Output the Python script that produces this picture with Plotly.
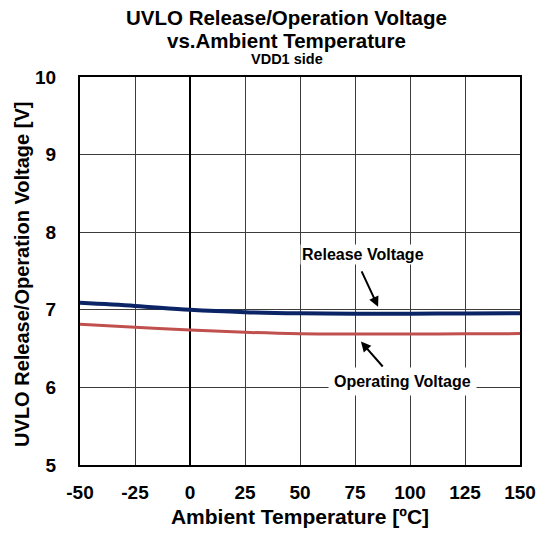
import plotly.graph_objects as go

temps = [-50, -25, 0, 25, 50, 75, 100, 125, 150]
release_v = [7.09, 7.05, 7.00, 6.97, 6.955, 6.95, 6.95, 6.952, 6.955]
operating_v = [6.815, 6.775, 6.74, 6.71, 6.692, 6.688, 6.688, 6.69, 6.693]
x_ticks = [-50, -25, 0, 25, 50, 75, 100, 125, 150]
y_ticks = [5, 6, 7, 8, 9, 10]

FONT = "Liberation Sans, Arial, sans-serif"

fig = go.Figure()
fig.add_trace(go.Scatter(x=temps, y=operating_v, mode="lines",
                         line=dict(color="#c0504d", width=3, shape="spline"),
                         name="Operating Voltage", showlegend=False, hoverinfo="skip"))
fig.add_trace(go.Scatter(x=temps, y=release_v, mode="lines",
                         line=dict(color="#0b2466", width=4, shape="spline"),
                         name="Release Voltage", showlegend=False, hoverinfo="skip"))

fig.update_layout(
    width=540, height=537,
    margin=dict(l=80, r=20, t=77, b=72),
    paper_bgcolor="white", plot_bgcolor="white",
    font=dict(family=FONT, color="black"),
    showlegend=False,
)
fig.update_xaxes(range=[-50, 150], tickvals=x_ticks, ticktext=[str(v) for v in x_ticks],
                 automargin=False,
                 showgrid=True, gridcolor="#3c3c3c", gridwidth=1.2,
                 zeroline=True, zerolinecolor="black", zerolinewidth=2,
                 showline=True, linecolor="black", linewidth=2, mirror=True,
                 ticks="", ticklabelstandoff=9,
                 tickfont=dict(size=19, family=FONT, weight="bold"),
                 title=dict(text="<b>Ambient Temperature [ºC]</b>", font=dict(size=21), standoff=8))
fig.update_yaxes(range=[5, 10], tickvals=y_ticks, ticktext=[str(v) for v in y_ticks],
                 automargin=False,
                 showgrid=True, gridcolor="#3c3c3c", gridwidth=1.2,
                 zeroline=False,
                 showline=True, linecolor="black", linewidth=2, mirror=True,
                 ticks="", ticklabelstandoff=18,
                 tickfont=dict(size=19, family=FONT, weight="bold"))

# y-axis title as rotated annotation (placed at x≈22px)
fig.add_annotation(xref="paper", yref="paper", x=-58 / 440, y=0.49, xanchor="center", yanchor="middle",
                   text="<b>UVLO Release/Operation Voltage [V]</b>", textangle=-90,
                   showarrow=False, font=dict(size=20))

# title lines
fig.add_annotation(xref="paper", yref="paper", x=0.47, y=1, yshift=60, yanchor="middle",
                   text="<b>UVLO Release/Operation Voltage</b>", showarrow=False, font=dict(size=20.5))
fig.add_annotation(xref="paper", yref="paper", x=0.47, y=1, yshift=37, yanchor="middle",
                   text="<b>vs.Ambient Temperature</b>", showarrow=False, font=dict(size=20.5))
fig.add_annotation(xref="paper", yref="paper", x=0.47, y=1, yshift=18, yanchor="middle",
                   text="<b>VDD1 side</b>", showarrow=False, font=dict(size=14.5))

# labels with arrows
fig.add_annotation(x=85.5, y=7.04, ax=77.7, ay=7.515, xref="x", yref="y", axref="x", ayref="y",
                   text="", showarrow=True, arrowhead=2, arrowsize=1, arrowwidth=2, arrowcolor="black")
fig.add_annotation(x=78.6, y=7.71, xref="x", yref="y", text="<b>Release Voltage</b>",
                   showarrow=False, font=dict(size=16), bgcolor="white")
fig.add_annotation(x=77.7, y=6.59, ax=88.2, ay=6.25, xref="x", yref="y", axref="x", ayref="y",
                   text="", showarrow=True, arrowhead=2, arrowsize=1, arrowwidth=2, arrowcolor="black")
fig.add_annotation(x=96.4, y=6.07, xref="x", yref="y", text="<b>Operating Voltage</b>",
                   showarrow=False, font=dict(size=16), bgcolor="white", borderpad=5)

fig.write_html("out.html", config={"displayModeBar": False},
               post_script="document.body.style.margin='0';document.body.style.padding='0';")
